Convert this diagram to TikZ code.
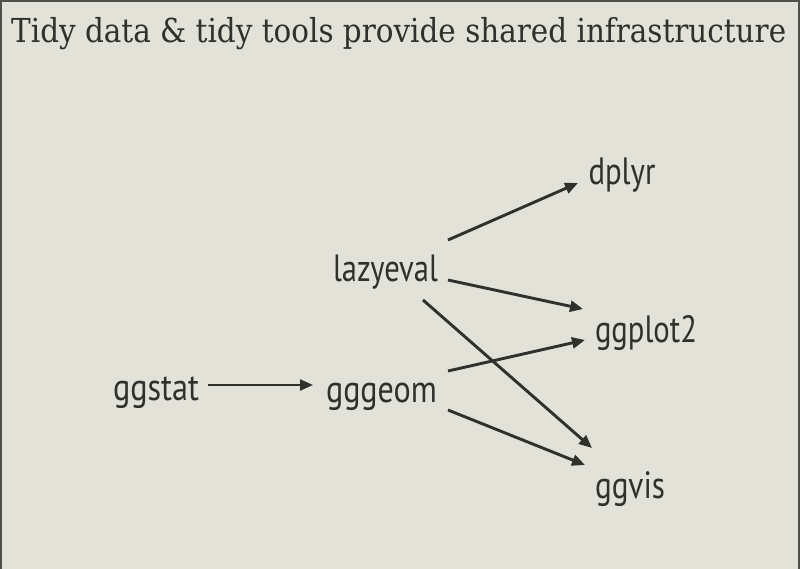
\documentclass[tikz,border=0pt]{standalone}
\usepackage{fontspec}
\usepackage{graphicx}
\usetikzlibrary{arrows.meta}
\newfontfamily\titlefont{DejaVu Serif}
\newfontfamily\pkgfont{PT Sans}
\definecolor{bg}{RGB}{226,226,216}
\definecolor{ink}{RGB}{48,48,44}
\definecolor{frame}{RGB}{80,80,76}
\newcommand{\fitw}[2]{\resizebox{#1pt}{\height}{#2}}
\tikzset{
  pkg/.style={anchor=base, inner sep=0pt, text=ink, font=\pkgfont\fontsize{38}{42}\selectfont},
  link/.style={draw=ink, line width=2.9pt, -{Triangle[length=13pt,width=11pt]}},
  thinlink/.style={link, line width=2.3pt},
}
\begin{document}
\begin{tikzpicture}[x=1pt,y=-1pt]
\fill[bg] (0,0) rectangle (800,569);
\useasboundingbox (0,0) rectangle (800,569);
\draw[frame, line width=2.5pt] (1,569) -- (1,1) -- (799,1) -- (799,569);
\node[anchor=base west, inner sep=0pt, text=ink, font=\titlefont\fontsize{33}{38}\selectfont] (title) at (11,43)
  {\fitw{775}{Tidy data \& tidy tools provide shared infrastructure}};
\node[pkg] (dplyr) at (622,185) {\fitw{67}{dplyr}};
\node[pkg] (lazyeval) at (385.5,281) {\fitw{105}{lazyeval}};
\node[pkg] (ggplot2) at (646,342) {\fitw{102}{ggplot2}};
\node[pkg] (ggstat) at (156,400) {\fitw{86}{ggstat}};
\node[pkg] (gggeom) at (381.5,402) {\fitw{111}{gggeom}};
\node[pkg] (ggvis) at (630,498) {\fitw{70}{ggvis}};
\draw[thinlink] ([shift={(52,-15)}]ggstat.base) -- ([shift={(-68.5,-17)}]gggeom.base);
\draw[link] ([shift={(62.5,-41)}]lazyeval.base) -- ([shift={(-44,-2)}]dplyr.base);
\draw[link] ([shift={(62.5,-1)}]lazyeval.base) -- ([shift={(-63,-33)}]ggplot2.base);
\draw[link] ([shift={(37.5,19)}]lazyeval.base) -- ([shift={(-38,-50)}]ggvis.base);
\draw[link] ([shift={(66.5,-31)}]gggeom.base) -- ([shift={(-61,-2)}]ggplot2.base);
\draw[link] ([shift={(66.5,8)}]gggeom.base) -- ([shift={(-45,-33)}]ggvis.base);
\end{tikzpicture}
\end{document}
